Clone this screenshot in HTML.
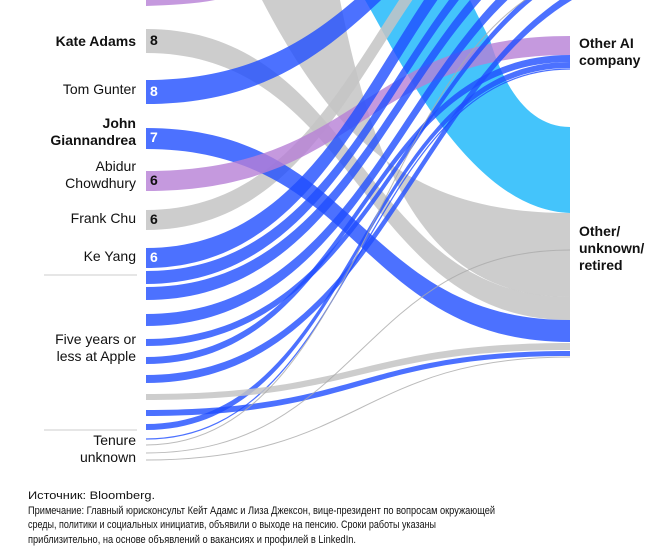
<!DOCTYPE html>
<html><head><meta charset="utf-8">
<style>
html,body{margin:0;padding:0;background:#fff;}
body{width:672px;height:554px;overflow:hidden;position:relative;font-family:"Liberation Sans",sans-serif;}
svg{position:absolute;left:0;top:0;}
</style></head>
<body>
<svg width="672" height="554" viewBox="0 0 672 554" xmlns="http://www.w3.org/2000/svg" font-family="Liberation Sans, sans-serif">
<defs>
<style>
.g{fill:#c4c4c4;opacity:.85}
.b{fill:#1f4dff;opacity:.8}
.p{fill:#b77fd6;opacity:.8}
.bl{fill:none;stroke:#1f4dff;opacity:.8}
.gl{fill:none;stroke:#aaa;opacity:.8}
</style>
</defs>
<path class="g" d="M262,0 C340,150 420,213 570,213 L570,297 C440,297 380,200 340,0 Z"/>
<path d="M365,0 C400,60 470,210 570,213 L570,127 C530,127 505,90 490,40 L470,0 Z" fill="#44c4fb"/>
<path class="p" d="M146,0 L215,0 C195,4 170,5 146,6 Z"/>
<path class="g" d="M146,29 C360,29 360,297 570,297 L570,320 C360,320 360,53 146,53 Z"/>
<path class="g" d="M146,210 C383,210 383,-160 620,-160 L620,-140 C383,-140 383,230 146,230 Z"/>
<path class="b" d="M146,80 C398,80 398,-160 650,-160 L650,-136 C398,-136 398,104 146,104 Z"/>
<path class="b" d="M146,128 C360,128 360,320 570,320 L570,342 C360,342 360,149 146,149 Z"/>
<path class="p" d="M146,171 C360,171 360,36 570,36 L570,55 C360,55 360,191 146,191 Z"/>
<path class="b" d="M146,248 C393,248 393,-150 640,-150 L640,-130 C393,-130 393,268 146,268 Z"/>
<path class="b" d="M146,271 C398,271 398,-120 650,-120 L650,-107 C398,-107 398,284 146,284 Z"/>
<path class="b" d="M146,287 C403,287 403,-100 660,-100 L660,-87 C403,-87 403,300 146,300 Z"/>
<path class="b" d="M146,314 C408,314 408,-80 670,-80 L670,-68 C408,-68 408,326 146,326 Z"/>
<path class="b" d="M146,339 C413,339 413,-60 680,-60 L680,-53 C413,-53 413,346 146,346 Z"/>
<path class="b" d="M146,357 C360,357 360,55 570,55 L570,62 C360,62 360,364 146,364 Z"/>
<path class="b" d="M146,375 C418,375 418,-40 690,-40 L690,-32 C418,-32 418,383 146,383 Z"/>
<path class="b" d="M146,424 C360,424 360,62 570,62 L570,68 C360,68 360,430 146,430 Z"/>
<path class="bl" stroke-width="1.2" d="M146,439 C360,439 360,69 570,69"/>
<path class="g" d="M146,394 C360,394 360,343 570,343 L570,350 C360,350 360,400 146,400 Z"/>
<path class="b" d="M146,410 C360,410 360,351 570,351 L570,356 C360,356 360,416 146,416 Z"/>
<path class="gl" stroke-width="1" d="M146,445 C380,445 380,-30 620,-30"/>
<path class="gl" stroke-width="1" d="M146,453 C360,453 360,250 570,250"/>
<path class="gl" stroke-width="1" d="M146,460 C360,460 360,357 570,357"/>
<line x1="44" y1="275" x2="137" y2="275" stroke="#ccc" stroke-width="1"/>
<line x1="44" y1="430" x2="137" y2="430" stroke="#ccc" stroke-width="1"/>
<g font-size="14" fill="#111" text-anchor="end">
<text x="136" y="46" font-weight="bold">Kate Adams</text>
<text x="136" y="94">Tom Gunter</text>
<text x="136" y="128" font-weight="bold">John</text>
<text x="136" y="145" font-weight="bold">Giannandrea</text>
<text x="136" y="171">Abidur</text>
<text x="136" y="188">Chowdhury</text>
<text x="136" y="223">Frank Chu</text>
<text x="136" y="261">Ke Yang</text>
<text x="136" y="344">Five years or</text>
<text x="136" y="361">less at Apple</text>
<text x="136" y="445">Tenure</text>
<text x="136" y="462">unknown</text>
</g>
<g font-size="14" font-weight="bold">
<text x="150" y="45" fill="#111">8</text>
<text x="150" y="96" fill="#fff">8</text>
<text x="150" y="142" fill="#fff">7</text>
<text x="150" y="185" fill="#111">6</text>
<text x="150" y="224" fill="#111">6</text>
<text x="150" y="262" fill="#fff">6</text>
</g>
<g font-size="14" font-weight="bold" fill="#111">
<text x="579" y="48">Other AI</text>
<text x="579" y="65">company</text>
<text x="579" y="236">Other/</text>
<text x="579" y="253">unknown/</text>
<text x="579" y="270">retired</text>
</g>
<g font-size="11" fill="#111">
<text x="28" y="499" textLength="127" lengthAdjust="spacingAndGlyphs">Источник: Bloomberg.</text>
<text x="28" y="514" textLength="467" lengthAdjust="spacingAndGlyphs">Примечание: Главный юрисконсульт Кейт Адамс и Лиза Джексон, вице-президент по вопросам окружающей</text>
<text x="28" y="528" textLength="408" lengthAdjust="spacingAndGlyphs">среды, политики и социальных инициатив, объявили о выходе на пенсию. Сроки работы указаны</text>
<text x="28" y="543" textLength="328" lengthAdjust="spacingAndGlyphs">приблизительно, на основе объявлений о вакансиях и профилей в LinkedIn.</text>
</g>
</svg>
</body></html>
